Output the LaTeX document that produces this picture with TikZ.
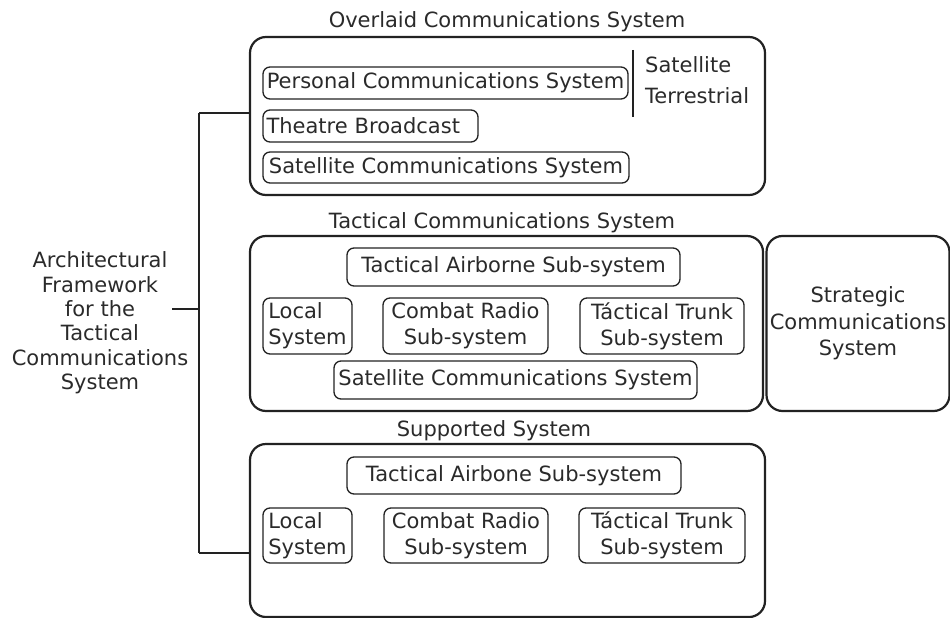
\documentclass[tikz,border=0pt]{standalone}
\usepackage{fontspec}
\setmainfont{DejaVu Sans}
\definecolor{ink}{HTML}{222222}
\definecolor{txt}{HTML}{2A2A2A}
\begin{document}
\begin{tikzpicture}[x=1pt,y=-1pt,
  every node/.style={font=\fontsize{21}{24.4}\selectfont, text=txt},
  obox/.style={draw=ink, line width=2.2pt, rounded corners=16pt, inner sep=0pt},
  ibox/.style={draw=ink, line width=1.3pt, rounded corners=7pt, inner sep=0pt, align=center},
  two/.style={font=\fontsize{21}{26}\selectfont},
  ttl/.style={inner sep=0pt, anchor=center},
  conn/.style={draw=ink, line width=1.3pt}
]
\useasboundingbox (0,0) rectangle (950,618);
% outer boxes
\node[obox, minimum width=515, minimum height=158] (over) at (507.5,116) {};
\node[obox, minimum width=513, minimum height=175] (tact) at (506.5,323.5) {};
\node[obox, minimum width=183, minimum height=175, align=center,
      font=\fontsize{21}{26.5}\selectfont] (strat) at (858,323.5) {Strategic\\Communications\\System};
\node[obox, minimum width=515, minimum height=173] (supp) at (507.5,530.5) {};
% titles
\node[ttl] (tover) at (507,22) {Overlaid Communications System};
\node[ttl] (ttact) at (502,223) {Tactical Communications System};
\node[ttl] (tsupp) at (494,431) {Supported System};
% overlaid contents
\node[ibox, minimum width=365, minimum height=32] (pcs) at (445.5,83) {Personal Communications System};
\node[ibox, text width=208, align=left, inner xsep=3.5pt, minimum height=32] (tb) at (370.5,126) {Theatre Broadcast};
\node[ibox, minimum width=366, minimum height=31] (scs1) at (446,167.5) {Satellite Communications System};
\coordinate (sepT) at (633,50);
\coordinate (sepB) at (633,117);
\draw[conn] (sepT) -- (sepB);
\node[anchor=west, inner sep=0pt] (sat) at (645,65) {Satellite};
\node[anchor=west, inner sep=0pt] (ter) at (645,96) {Terrestrial};
% tactical contents
\node[ibox, minimum width=333, minimum height=38] (tas1) at (513.5,267) {Tactical Airborne Sub-system};
\node[ibox, two, align=left, minimum width=89, minimum height=56] (loc1) at (307.5,326) {Local\\System};
\node[ibox, two, minimum width=165, minimum height=56] (crs1) at (465.5,326) {Combat Radio\\Sub-system};
\node[ibox, two, minimum width=164, minimum height=56] (tts1) at (662,326) {Táctical Trunk\\Sub-system};
\node[ibox, minimum width=363, minimum height=38] (scs2) at (515.5,380) {Satellite Communications System};
% supported contents
\node[ibox, minimum width=334, minimum height=37] (tas2) at (514,475.5) {Tactical Airbone Sub-system};
\node[ibox, two, align=left, minimum width=89, minimum height=55] (loc2) at (307.5,535.5) {Local\\System};
\node[ibox, two, minimum width=164, minimum height=55] (crs2) at (466,535.5) {Combat Radio\\Sub-system};
\node[ibox, two, minimum width=166, minimum height=55] (tts2) at (662,535.5) {Táctical Trunk\\Sub-system};
% left framework
\node[align=center, inner sep=0pt] (arch) at (100,323) {Architectural\\Framework\\for the\\Tactical\\Communications\\System};
\coordinate (jt) at (199,113);
\coordinate (jb) at (199,553);
\coordinate (jm) at (199,309);
\coordinate (am) at (172,309);
\draw[conn] (jt) -- (jb);
\draw[conn] (jt) -- (jt -| over.west);
\draw[conn] (jb) -- (jb -| supp.west);
\draw[conn] (am) -- (jm);
\end{tikzpicture}
\end{document}
